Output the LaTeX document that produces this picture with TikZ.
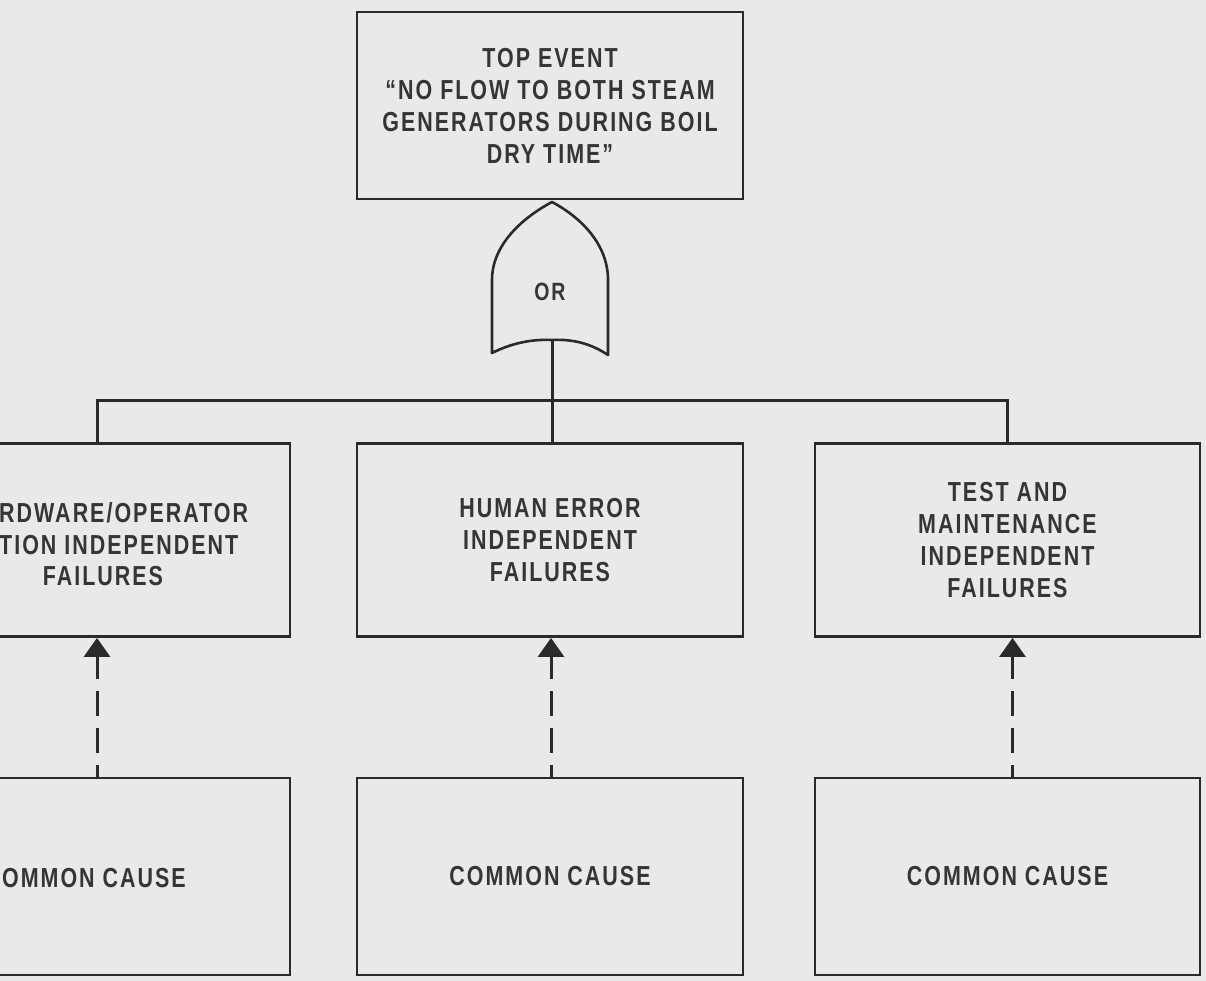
\documentclass[tikz,border=0pt]{standalone}
\usepackage{fontspec}
\usetikzlibrary{arrows.meta}
\newfontfamily\lblfont{Liberation Sans}[FakeStretch=0.78,LetterSpace=7.3]
\definecolor{paper}{HTML}{E9E9E7}
\definecolor{ink}{HTML}{2A2A2A}
\definecolor{type}{HTML}{353535}
\begin{document}
\begin{tikzpicture}[x=1pt,y=-1pt,
  txt/.style={text=type,align=center,inner sep=0pt,font=\lblfont\bfseries\fontsize{27.5}{32}\selectfont},
  box/.style={draw=ink,line width=2.8pt,fill=paper,rectangle,inner sep=0pt,txt},
  wire/.style={draw=ink,line width=3pt},
  cause/.style={draw=ink,line width=3pt,dash pattern=on 25pt off 12pt,dash phase=13pt,
    -{Triangle[width=26pt,length=19pt]}},
  gate/.style={draw=ink,line width=2.6pt,fill=paper,line join=round}]
\useasboundingbox (0,0) rectangle (1206,981);
\fill[paper] (0,0) rectangle (1206,981);
\clip (0,0) rectangle (1206,981);

% top event
\node[box,minimum width=386pt,minimum height=187pt] (top) at (550,105.5)
  {TOP EVENT\\“NO FLOW TO BOTH STEAM\\GENERATORS DURING BOIL\\DRY TIME”};

% OR gate below the top event
\coordinate (gin) at (552,202);
\coordinate (gout) at (552,340);
\draw[gate] (492,353) -- (492,280)
  .. controls (492,245) and (522,218) .. (gin)
  .. controls (582,218) and (608,245) .. (608,280) -- (608,355)
  .. controls (590,343) and (572,339) .. (gout)
  .. controls (532,339) and (512,343) .. (492,353) -- cycle;
\node[txt,font=\lblfont\bfseries\fontsize{25}{28}\selectfont] (or) at (550,292) {OR};

% independent failure events (the left pair runs past the page edge)
\node[box,minimum width=386pt,minimum height=193pt] (hw) at (97,540) {};
\node[txt,align=left,anchor=west] (hwtxt) at (-1,529)
  {RDWARE/OPERATOR\\TION INDEPENDENT};
\node[txt] (hwtxt2) at (103,576) {FAILURES};
\node[box,minimum width=386pt,minimum height=193pt] (hum) at (550,540)
  {HUMAN ERROR\\INDEPENDENT\\FAILURES};
\node[box,minimum width=385pt,minimum height=193pt] (tm) at (1007.5,540)
  {TEST AND\\MAINTENANCE\\INDEPENDENT\\FAILURES};

% common cause events
\node[box,minimum width=386pt,minimum height=197pt] (cc1) at (97,876.5) {};
\node[txt,anchor=east] (cc1txt) at (186,878) {OMMON CAUSE};
\node[box,minimum width=386pt,minimum height=197pt] (cc2) at (550,876.5) {COMMON CAUSE};
\node[box,minimum width=385pt,minimum height=197pt] (cc3) at (1007.5,876.5) {COMMON CAUSE};

% gate output and distribution bus
\coordinate (bus) at (552,400);
\draw[wire] (gout) -- ([xshift=2pt]hum.north);
\draw[wire] (hw.north) |- (bus) -| (tm.north);

% common cause contributions
\draw[cause] (cc1.north) -- (hw.south);
\draw[cause] ([xshift=1pt]cc2.north) -- ([xshift=1pt]hum.south);
\draw[cause] ([xshift=5pt]cc3.north) -- ([xshift=5pt]tm.south);
\end{tikzpicture}
\end{document}
